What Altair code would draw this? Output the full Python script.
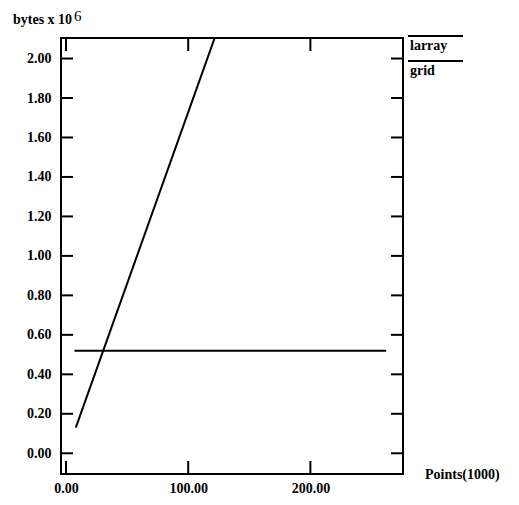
import altair as alt
import pandas as pd

# data
larray_x = [8, 122]
larray_y = [0.13, 2.11]
grid_x = [7, 262]
grid_y = [0.52, 0.52]
x_ticks = [0, 100, 200]
y_ticks = [0.0, 0.2, 0.4, 0.6, 0.8, 1.0, 1.2, 1.4, 1.6, 1.8, 2.0]
series_names = ["larray", "grid"]

W, H = 342, 436
FONT = "Liberation Serif"

xs = alt.Scale(domain=[-4.1, 275.8], nice=False, zero=False)
ys = alt.Scale(domain=[-0.105, 2.104], nice=False, zero=False)

lines_df = pd.DataFrame(
    {"x": larray_x + grid_x, "y": larray_y + grid_y,
     "series": ["larray"] * len(larray_x) + ["grid"] * len(grid_x)}
)
xt = pd.DataFrame({"x": x_ticks})
yt = pd.DataFrame({"y": y_ticks})

lines = alt.Chart(lines_df).mark_line(color="black", strokeWidth=2, clip=True).encode(
    x=alt.X("x:Q", scale=xs,
            axis=alt.Axis(values=x_ticks, format=".2f", ticks=False, domain=False, grid=False,
                          title=None, labelFont=FONT, labelFontWeight="bold", labelFontSize=14,
                          labelColor="black", labelPadding=7)),
    y=alt.Y("y:Q", scale=ys,
            axis=alt.Axis(values=y_ticks, format=".2f", ticks=False, domain=False, grid=False,
                          title=None, labelFont=FONT, labelFontWeight="bold", labelFontSize=14,
                          labelColor="black", labelPadding=10)),
    detail="series:N",
)

tick_style = dict(color="black", strokeWidth=2)
left_ticks = alt.Chart(yt).mark_rule(**tick_style).encode(
    y=alt.Y("y:Q", scale=ys), x=alt.value(0), x2=alt.value(12))
right_ticks = alt.Chart(yt).mark_rule(**tick_style).encode(
    y=alt.Y("y:Q", scale=ys), x=alt.value(W - 12), x2=alt.value(W))
bottom_ticks = alt.Chart(xt).mark_rule(**tick_style).encode(
    x=alt.X("x:Q", scale=xs), y=alt.value(H - 13), y2=alt.value(H))
top_ticks = alt.Chart(xt).mark_rule(**tick_style).encode(
    x=alt.X("x:Q", scale=xs), y=alt.value(0), y2=alt.value(13))

layers = [lines, left_ticks, right_ticks, bottom_ticks, top_ticks]

# legend: line above each label
for i, name in enumerate(series_names):
    d = pd.DataFrame({"label": [name]})
    layers.append(alt.Chart(d).mark_rule(color="black", strokeWidth=2).encode(
        x=alt.value(347), x2=alt.value(402), y=alt.value(-2 + 25 * i)))
    layers.append(alt.Chart(d).mark_text(
        font=FONT, fontWeight="bold", fontSize=14, align="left", baseline="middle", color="black"
    ).encode(text="label:N", x=alt.value(349), y=alt.value(8 + 25 * i)))

title_df = pd.DataFrame({"t": ["bytes x 10"]})
sup_df = pd.DataFrame({"t": ["6"]})
xlab_df = pd.DataFrame({"t": ["Points(1000)"]})
layers.append(alt.Chart(title_df).mark_text(
    font=FONT, fontWeight="bold", fontSize=14, align="left", baseline="alphabetic", color="black"
).encode(text="t:N", x=alt.value(-48), y=alt.value(-14)))
layers.append(alt.Chart(sup_df).mark_text(
    font=FONT, fontSize=15, align="left", baseline="alphabetic", color="black"
).encode(text="t:N", x=alt.value(13), y=alt.value(-17)))
layers.append(alt.Chart(xlab_df).mark_text(
    font=FONT, fontWeight="bold", fontSize=14, align="left", baseline="middle", color="black"
).encode(text="t:N", x=alt.value(364), y=alt.value(437)))

chart = alt.layer(*layers).properties(
    width=W, height=H,
    background="white",
    autosize=alt.AutoSizeParams(type="none"),
    padding={"left": 53, "top": 30, "right": 108, "bottom": 23},
).configure_view(stroke="black", strokeWidth=2)

chart.save("out.html", embed_options={"renderer": "svg", "actions": False})
